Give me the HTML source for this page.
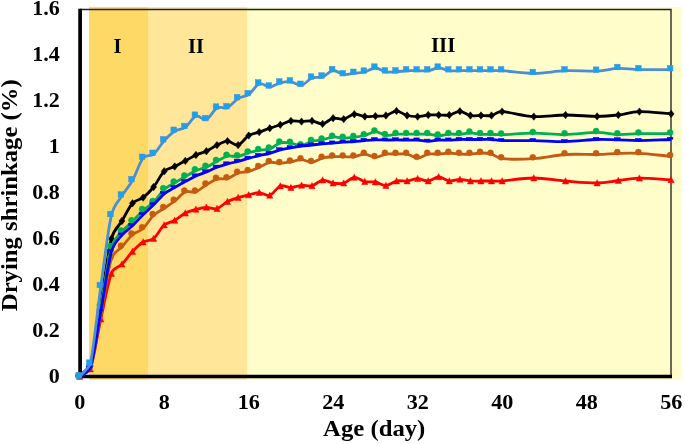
<!DOCTYPE html>
<html><head><meta charset="utf-8"><title>Drying shrinkage</title>
<style>
html,body{margin:0;padding:0;background:#fff;}
body{width:685px;height:444px;overflow:hidden;}
svg{display:block;will-change:transform;filter:blur(0.45px);}
text{font-family:"Liberation Serif",serif;font-weight:bold;fill:#000;}
</style></head><body>
<svg width="685" height="444" viewBox="0 0 685 444">
<rect x="0" y="0" width="685" height="444" fill="#ffffff"/>
<rect x="89" y="7" width="59" height="372.8" fill="#ffd966"/>
<rect x="148" y="7" width="99.5" height="372.8" fill="#ffe699"/>
<rect x="247.5" y="7" width="434" height="372.8" fill="#fffdc9"/>
<!-- thin top/right border -->
<path d="M80 9.5H671V376" fill="none" stroke="#222" stroke-width="1.35"/>
<!-- thick axes -->
<path d="M80.1 8.8V376.5H672" fill="none" stroke="#000" stroke-width="3.7" stroke-linejoin="miter"/>
<g font-size="21">
<text x="117.5" y="53.1" text-anchor="middle" font-size="20.5">I</text>
<text x="195.9" y="53.1" text-anchor="middle" font-size="20.5">II</text>
<text x="443.2" y="51.8" text-anchor="middle">III</text>
</g>
<path d="M79.70 375.40 C83.22 372.27 89.57 368.38 90.26 366.00 C93.78 353.93 97.30 324.20 100.82 303.00 C104.34 281.80 107.86 252.47 111.38 238.80 C113.96 228.78 118.42 226.92 121.94 221.00 C125.46 215.08 128.98 207.20 132.50 203.30 C136.02 199.40 139.54 200.32 143.06 197.60 C146.58 194.88 150.10 191.38 153.62 187.00 C157.14 182.62 160.66 174.72 164.18 171.30 C167.70 167.88 171.22 168.23 174.74 166.50 C178.26 164.77 181.78 162.82 185.30 160.90 C188.82 158.98 192.34 156.62 195.86 155.00 C199.38 153.38 202.90 152.85 206.42 151.20 C209.94 149.55 213.46 146.78 216.98 145.10 C220.50 143.42 224.02 141.10 227.54 141.10 C231.06 141.10 234.58 146.03 238.10 145.10 C241.62 144.17 245.14 137.67 248.66 135.50 C252.18 133.33 255.70 133.32 259.22 132.10 C262.74 130.88 266.26 129.42 269.78 128.20 C273.30 126.98 276.82 126.02 280.34 124.80 C283.86 123.58 287.38 121.43 290.90 120.90 C294.42 120.37 297.94 121.60 301.46 121.60 C304.98 121.60 308.50 120.52 312.02 120.90 C315.54 121.28 319.06 124.35 322.58 123.90 C326.10 123.45 329.62 119.00 333.14 118.20 C336.66 117.40 340.18 119.77 343.70 119.10 C347.22 118.43 350.74 114.63 354.26 114.20 C357.78 113.77 361.30 116.18 364.82 116.50 C368.34 116.82 371.86 116.27 375.38 116.10 C378.90 115.93 382.42 116.35 385.94 115.50 C389.46 114.65 392.98 111.00 396.50 111.00 C400.02 111.00 403.54 114.57 407.06 115.50 C410.58 116.43 414.10 116.68 417.62 116.60 C421.14 116.52 424.66 115.27 428.18 115.00 C431.70 114.73 435.22 115.00 438.74 115.00 C442.26 115.00 445.78 115.62 449.30 115.00 C452.82 114.38 456.34 111.22 459.86 111.30 C463.38 111.38 466.90 114.80 470.42 115.50 C473.94 116.20 477.46 115.50 480.98 115.50 C484.50 115.50 488.02 116.15 491.54 115.50 C495.06 114.85 496.47 111.45 502.10 111.60 C509.14 111.78 523.22 116.03 533.78 116.60 C544.34 117.17 554.90 115.03 565.46 115.00 C576.02 114.97 588.34 116.40 597.14 116.40 C605.94 116.40 611.22 115.80 618.26 115.00 C625.30 114.20 630.58 111.78 639.38 111.60 C648.18 111.42 660.50 113.13 671.06 113.90" fill="none" stroke="#000000" stroke-width="2.8" stroke-linejoin="round" stroke-linecap="butt"/>
<g fill="#000000" stroke="#000000" stroke-width="0.5" stroke-linejoin="miter"><path d="M79.7 371.7l3 3.7l-3 3.7l-3 -3.7z"/><path d="M90.3 362.3l3 3.7l-3 3.7l-3 -3.7z"/><path d="M100.8 299.3l3 3.7l-3 3.7l-3 -3.7z"/><path d="M111.4 235.1l3 3.7l-3 3.7l-3 -3.7z"/><path d="M121.9 217.3l3 3.7l-3 3.7l-3 -3.7z"/><path d="M132.5 199.6l3 3.7l-3 3.7l-3 -3.7z"/><path d="M143.1 193.9l3 3.7l-3 3.7l-3 -3.7z"/><path d="M153.6 183.3l3 3.7l-3 3.7l-3 -3.7z"/><path d="M164.2 167.6l3 3.7l-3 3.7l-3 -3.7z"/><path d="M174.7 162.8l3 3.7l-3 3.7l-3 -3.7z"/><path d="M185.3 157.2l3 3.7l-3 3.7l-3 -3.7z"/><path d="M195.9 151.3l3 3.7l-3 3.7l-3 -3.7z"/><path d="M206.4 147.5l3 3.7l-3 3.7l-3 -3.7z"/><path d="M217.0 141.4l3 3.7l-3 3.7l-3 -3.7z"/><path d="M227.5 137.4l3 3.7l-3 3.7l-3 -3.7z"/><path d="M238.1 141.4l3 3.7l-3 3.7l-3 -3.7z"/><path d="M248.7 131.8l3 3.7l-3 3.7l-3 -3.7z"/><path d="M259.2 128.4l3 3.7l-3 3.7l-3 -3.7z"/><path d="M269.8 124.5l3 3.7l-3 3.7l-3 -3.7z"/><path d="M280.3 121.1l3 3.7l-3 3.7l-3 -3.7z"/><path d="M290.9 117.2l3 3.7l-3 3.7l-3 -3.7z"/><path d="M301.5 117.9l3 3.7l-3 3.7l-3 -3.7z"/><path d="M312.0 117.2l3 3.7l-3 3.7l-3 -3.7z"/><path d="M322.6 120.2l3 3.7l-3 3.7l-3 -3.7z"/><path d="M333.1 114.5l3 3.7l-3 3.7l-3 -3.7z"/><path d="M343.7 115.4l3 3.7l-3 3.7l-3 -3.7z"/><path d="M354.3 110.5l3 3.7l-3 3.7l-3 -3.7z"/><path d="M364.8 112.8l3 3.7l-3 3.7l-3 -3.7z"/><path d="M375.4 112.4l3 3.7l-3 3.7l-3 -3.7z"/><path d="M385.9 111.8l3 3.7l-3 3.7l-3 -3.7z"/><path d="M396.5 107.3l3 3.7l-3 3.7l-3 -3.7z"/><path d="M407.1 111.8l3 3.7l-3 3.7l-3 -3.7z"/><path d="M417.6 112.9l3 3.7l-3 3.7l-3 -3.7z"/><path d="M428.2 111.3l3 3.7l-3 3.7l-3 -3.7z"/><path d="M438.7 111.3l3 3.7l-3 3.7l-3 -3.7z"/><path d="M449.3 111.3l3 3.7l-3 3.7l-3 -3.7z"/><path d="M459.9 107.6l3 3.7l-3 3.7l-3 -3.7z"/><path d="M470.4 111.8l3 3.7l-3 3.7l-3 -3.7z"/><path d="M481.0 111.8l3 3.7l-3 3.7l-3 -3.7z"/><path d="M491.5 111.8l3 3.7l-3 3.7l-3 -3.7z"/><path d="M502.1 107.9l3 3.7l-3 3.7l-3 -3.7z"/><path d="M533.8 112.9l3 3.7l-3 3.7l-3 -3.7z"/><path d="M565.5 111.3l3 3.7l-3 3.7l-3 -3.7z"/><path d="M597.1 112.7l3 3.7l-3 3.7l-3 -3.7z"/><path d="M618.3 111.3l3 3.7l-3 3.7l-3 -3.7z"/><path d="M639.4 107.9l3 3.7l-3 3.7l-3 -3.7z"/><path d="M671.1 110.2l3 3.7l-3 3.7l-3 -3.7z"/></g>
<path d="M79.70 376.50 C83.22 374.00 89.48 371.13 90.26 369.00 C93.78 359.42 97.30 334.92 100.82 319.00 C104.34 303.08 107.86 282.63 111.38 273.50 C113.91 266.94 118.42 267.87 121.94 264.20 C125.46 260.53 128.98 255.20 132.50 251.50 C136.02 247.80 139.54 244.17 143.06 242.00 C146.58 239.83 150.10 241.33 153.62 238.50 C157.14 235.67 160.66 228.02 164.18 225.00 C167.70 221.98 171.22 222.38 174.74 220.40 C178.26 218.42 181.78 214.93 185.30 213.10 C188.82 211.27 192.34 210.37 195.86 209.40 C199.38 208.43 202.90 207.43 206.42 207.30 C209.94 207.17 213.46 209.55 216.98 208.60 C220.50 207.65 224.02 203.43 227.54 201.60 C231.06 199.77 234.58 198.72 238.10 197.60 C241.62 196.48 245.14 195.73 248.66 194.90 C252.18 194.07 255.70 192.52 259.22 192.60 C262.74 192.68 266.26 196.50 269.78 195.40 C273.30 194.30 276.82 187.30 280.34 186.00 C283.86 184.70 287.38 187.72 290.90 187.60 C294.42 187.48 297.94 185.60 301.46 185.30 C304.98 185.00 308.50 186.67 312.02 185.80 C315.54 184.93 319.06 180.55 322.58 180.10 C326.10 179.65 329.62 182.60 333.14 183.10 C336.66 183.60 340.18 184.05 343.70 183.10 C347.22 182.15 350.74 177.65 354.26 177.40 C357.78 177.15 361.30 180.83 364.82 181.60 C368.34 182.37 371.86 181.35 375.38 182.00 C378.90 182.65 382.42 185.67 385.94 185.50 C389.46 185.33 392.98 181.75 396.50 181.00 C400.02 180.25 403.54 181.38 407.06 181.00 C410.58 180.62 414.10 178.70 417.62 178.70 C421.14 178.70 424.66 181.30 428.18 181.00 C431.70 180.70 435.22 176.90 438.74 176.90 C442.26 176.90 445.78 180.58 449.30 181.00 C452.82 181.42 456.34 179.40 459.86 179.40 C463.38 179.40 466.90 180.73 470.42 181.00 C473.94 181.27 477.46 181.00 480.98 181.00 C484.50 181.00 488.02 181.00 491.54 181.00 C495.06 181.00 496.83 181.37 502.10 181.00 C509.14 180.50 523.22 178.00 533.78 178.00 C544.34 178.00 554.90 180.17 565.46 181.00 C576.02 181.83 588.34 183.08 597.14 183.00 C605.94 182.92 611.22 181.30 618.26 180.50 C625.30 179.70 630.58 178.32 639.38 178.20 C648.18 178.08 660.50 179.27 671.06 179.80" fill="none" stroke="#ff0000" stroke-width="2.8" stroke-linejoin="round" stroke-linecap="butt"/>
<g fill="#ff0000" stroke="#ff0000" stroke-width="0.5" stroke-linejoin="miter"><path d="M79.7 373.2l3.1 6.2h-6.2z"/><path d="M90.3 365.7l3.1 6.2h-6.2z"/><path d="M100.8 315.7l3.1 6.2h-6.2z"/><path d="M111.4 270.2l3.1 6.2h-6.2z"/><path d="M121.9 260.9l3.1 6.2h-6.2z"/><path d="M132.5 248.2l3.1 6.2h-6.2z"/><path d="M143.1 238.7l3.1 6.2h-6.2z"/><path d="M153.6 235.2l3.1 6.2h-6.2z"/><path d="M164.2 221.7l3.1 6.2h-6.2z"/><path d="M174.7 217.1l3.1 6.2h-6.2z"/><path d="M185.3 209.8l3.1 6.2h-6.2z"/><path d="M195.9 206.1l3.1 6.2h-6.2z"/><path d="M206.4 204.0l3.1 6.2h-6.2z"/><path d="M217.0 205.3l3.1 6.2h-6.2z"/><path d="M227.5 198.3l3.1 6.2h-6.2z"/><path d="M238.1 194.3l3.1 6.2h-6.2z"/><path d="M248.7 191.6l3.1 6.2h-6.2z"/><path d="M259.2 189.3l3.1 6.2h-6.2z"/><path d="M269.8 192.1l3.1 6.2h-6.2z"/><path d="M280.3 182.7l3.1 6.2h-6.2z"/><path d="M290.9 184.3l3.1 6.2h-6.2z"/><path d="M301.5 182.0l3.1 6.2h-6.2z"/><path d="M312.0 182.5l3.1 6.2h-6.2z"/><path d="M322.6 176.8l3.1 6.2h-6.2z"/><path d="M333.1 179.8l3.1 6.2h-6.2z"/><path d="M343.7 179.8l3.1 6.2h-6.2z"/><path d="M354.3 174.1l3.1 6.2h-6.2z"/><path d="M364.8 178.3l3.1 6.2h-6.2z"/><path d="M375.4 178.7l3.1 6.2h-6.2z"/><path d="M385.9 182.2l3.1 6.2h-6.2z"/><path d="M396.5 177.7l3.1 6.2h-6.2z"/><path d="M407.1 177.7l3.1 6.2h-6.2z"/><path d="M417.6 175.4l3.1 6.2h-6.2z"/><path d="M428.2 177.7l3.1 6.2h-6.2z"/><path d="M438.7 173.6l3.1 6.2h-6.2z"/><path d="M449.3 177.7l3.1 6.2h-6.2z"/><path d="M459.9 176.1l3.1 6.2h-6.2z"/><path d="M470.4 177.7l3.1 6.2h-6.2z"/><path d="M481.0 177.7l3.1 6.2h-6.2z"/><path d="M491.5 177.7l3.1 6.2h-6.2z"/><path d="M502.1 177.7l3.1 6.2h-6.2z"/><path d="M533.8 174.7l3.1 6.2h-6.2z"/><path d="M565.5 177.7l3.1 6.2h-6.2z"/><path d="M597.1 179.7l3.1 6.2h-6.2z"/><path d="M618.3 177.2l3.1 6.2h-6.2z"/><path d="M639.4 174.9l3.1 6.2h-6.2z"/><path d="M671.1 176.5l3.1 6.2h-6.2z"/></g>
<path d="M79.70 376.70 C83.22 374.07 89.52 370.99 90.26 368.80 C93.78 358.40 97.30 332.63 100.82 314.30 C104.34 295.97 107.86 270.02 111.38 258.80 C113.75 251.25 118.42 251.00 121.94 247.00 C125.46 243.00 128.98 237.88 132.50 234.80 C136.02 231.72 139.54 231.75 143.06 228.50 C146.58 225.25 150.10 218.67 153.62 215.30 C157.14 211.93 160.66 210.68 164.18 208.30 C167.70 205.92 171.22 203.73 174.74 201.00 C178.26 198.27 181.78 193.42 185.30 191.90 C188.82 190.38 192.34 193.10 195.86 191.90 C199.38 190.70 202.90 186.83 206.42 184.70 C209.94 182.57 213.46 180.12 216.98 179.10 C220.50 178.08 224.02 179.62 227.54 178.60 C231.06 177.58 234.58 174.20 238.10 173.00 C241.62 171.80 245.14 172.35 248.66 171.40 C252.18 170.45 255.70 168.80 259.22 167.30 C262.74 165.80 266.26 163.07 269.78 162.40 C273.30 161.73 276.82 163.40 280.34 163.30 C283.86 163.20 287.38 162.42 290.90 161.80 C294.42 161.18 297.94 159.52 301.46 159.60 C304.98 159.68 308.50 162.57 312.02 162.30 C315.54 162.03 319.06 158.93 322.58 158.00 C326.10 157.07 329.62 156.92 333.14 156.70 C336.66 156.48 340.18 156.70 343.70 156.70 C347.22 156.70 350.74 157.13 354.26 156.70 C357.78 156.27 361.30 153.98 364.82 154.10 C368.34 154.22 371.86 157.40 375.38 157.40 C378.90 157.40 382.42 154.65 385.94 154.10 C389.46 153.55 392.98 154.10 396.50 154.10 C400.02 154.10 403.54 153.43 407.06 154.10 C410.58 154.77 414.10 158.10 417.62 158.10 C421.14 158.10 424.66 154.77 428.18 154.10 C431.70 153.43 435.22 154.28 438.74 154.10 C442.26 153.92 445.78 153.00 449.30 153.00 C452.82 153.00 456.34 153.92 459.86 154.10 C463.38 154.28 466.90 154.28 470.42 154.10 C473.94 153.92 477.46 153.00 480.98 153.00 C484.50 153.00 488.02 153.17 491.54 154.10 C495.06 155.03 496.39 157.99 502.10 158.60 C509.14 159.35 523.22 159.28 533.78 158.60 C544.34 157.92 554.90 155.18 565.46 154.50 C576.02 153.82 588.34 154.68 597.14 154.50 C605.94 154.32 611.22 153.58 618.26 153.40 C625.30 153.22 630.58 152.92 639.38 153.40 C648.18 153.88 660.50 155.33 671.06 156.30" fill="none" stroke="#c55a11" stroke-width="2.8" stroke-linejoin="round" stroke-linecap="butt"/>
<g fill="#c55a11" stroke="#c55a11" stroke-width="0.5" stroke-linejoin="miter"><circle cx="78.7" cy="375.4" r="3"/><circle cx="89.3" cy="367.5" r="3"/><circle cx="99.8" cy="313.0" r="3"/><circle cx="110.4" cy="257.5" r="3"/><circle cx="120.9" cy="245.7" r="3"/><circle cx="131.5" cy="233.5" r="3"/><circle cx="142.1" cy="227.2" r="3"/><circle cx="152.6" cy="214.0" r="3"/><circle cx="163.2" cy="207.0" r="3"/><circle cx="173.7" cy="199.7" r="3"/><circle cx="184.3" cy="190.6" r="3"/><circle cx="194.9" cy="190.6" r="3"/><circle cx="205.4" cy="183.4" r="3"/><circle cx="216.0" cy="177.8" r="3"/><circle cx="226.5" cy="177.3" r="3"/><circle cx="237.1" cy="171.7" r="3"/><circle cx="247.7" cy="170.1" r="3"/><circle cx="258.2" cy="166.0" r="3"/><circle cx="268.8" cy="161.1" r="3"/><circle cx="279.3" cy="162.0" r="3"/><circle cx="289.9" cy="160.5" r="3"/><circle cx="300.5" cy="158.3" r="3"/><circle cx="311.0" cy="161.0" r="3"/><circle cx="321.6" cy="156.7" r="3"/><circle cx="332.1" cy="155.4" r="3"/><circle cx="342.7" cy="155.4" r="3"/><circle cx="353.3" cy="155.4" r="3"/><circle cx="363.8" cy="152.8" r="3"/><circle cx="374.4" cy="156.1" r="3"/><circle cx="384.9" cy="152.8" r="3"/><circle cx="395.5" cy="152.8" r="3"/><circle cx="406.1" cy="152.8" r="3"/><circle cx="416.6" cy="156.8" r="3"/><circle cx="427.2" cy="152.8" r="3"/><circle cx="437.7" cy="152.8" r="3"/><circle cx="448.3" cy="151.7" r="3"/><circle cx="458.9" cy="152.8" r="3"/><circle cx="469.4" cy="152.8" r="3"/><circle cx="480.0" cy="151.7" r="3"/><circle cx="490.5" cy="152.8" r="3"/><circle cx="501.1" cy="157.3" r="3"/><circle cx="532.8" cy="157.3" r="3"/><circle cx="564.5" cy="153.2" r="3"/><circle cx="596.1" cy="153.2" r="3"/><circle cx="617.3" cy="152.1" r="3"/><circle cx="638.4" cy="152.1" r="3"/><circle cx="670.1" cy="155.0" r="3"/></g>
<path d="M79.70 376.70 C83.22 373.57 89.55 369.67 90.26 367.30 C93.78 355.57 97.30 326.28 100.82 306.30 C104.34 286.32 107.86 259.83 111.38 247.40 C113.96 238.30 118.42 236.00 121.94 231.70 C125.46 227.40 128.98 225.17 132.50 221.60 C136.02 218.03 139.54 213.52 143.06 210.30 C146.58 207.08 150.10 205.77 153.62 202.30 C157.14 198.83 160.66 192.75 164.18 189.50 C167.70 186.25 171.22 184.93 174.74 182.80 C178.26 180.67 181.78 178.75 185.30 176.70 C188.82 174.65 192.34 172.10 195.86 170.50 C199.38 168.90 202.90 168.63 206.42 167.10 C209.94 165.57 213.46 163.13 216.98 161.30 C220.50 159.47 224.02 156.90 227.54 156.10 C231.06 155.30 234.58 157.07 238.10 156.50 C241.62 155.93 245.14 153.72 248.66 152.70 C252.18 151.68 255.70 151.03 259.22 150.40 C262.74 149.77 266.26 150.15 269.78 148.90 C273.30 147.65 276.82 143.87 280.34 142.90 C283.86 141.93 287.38 142.65 290.90 143.10 C294.42 143.55 297.94 145.92 301.46 145.60 C304.98 145.28 308.50 142.17 312.02 141.20 C315.54 140.23 319.06 140.50 322.58 139.80 C326.10 139.10 329.62 137.28 333.14 137.00 C336.66 136.72 340.18 138.07 343.70 138.10 C347.22 138.13 350.74 137.63 354.26 137.20 C357.78 136.77 361.30 136.42 364.82 135.50 C368.34 134.58 371.86 131.72 375.38 131.70 C378.90 131.68 382.42 134.98 385.94 135.40 C389.46 135.82 392.98 134.40 396.50 134.20 C400.02 134.00 403.54 134.20 407.06 134.20 C410.58 134.20 414.10 134.20 417.62 134.20 C421.14 134.20 424.66 133.93 428.18 134.20 C431.70 134.47 435.22 135.80 438.74 135.80 C442.26 135.80 445.78 134.45 449.30 134.20 C452.82 133.95 456.34 134.53 459.86 134.30 C463.38 134.07 466.90 132.80 470.42 132.80 C473.94 132.80 477.46 134.05 480.98 134.30 C484.50 134.55 488.02 134.23 491.54 134.30 C495.06 134.37 496.82 134.84 502.10 134.70 C509.14 134.52 523.22 133.22 533.78 133.20 C544.34 133.18 554.90 134.73 565.46 134.60 C576.02 134.47 588.34 132.40 597.14 132.40 C605.94 132.40 611.22 134.38 618.26 134.60 C625.30 134.82 630.58 133.85 639.38 133.70 C648.18 133.55 660.50 133.70 671.06 133.70" fill="none" stroke="#00b050" stroke-width="2.8" stroke-linejoin="round" stroke-linecap="butt"/>
<g fill="#00b050" stroke="#00b050" stroke-width="0.5" stroke-linejoin="miter"><circle cx="78.7" cy="375.4" r="3"/><circle cx="89.3" cy="366.0" r="3"/><circle cx="99.8" cy="305.0" r="3"/><circle cx="110.4" cy="246.1" r="3"/><circle cx="120.9" cy="230.4" r="3"/><circle cx="131.5" cy="220.3" r="3"/><circle cx="142.1" cy="209.0" r="3"/><circle cx="152.6" cy="201.0" r="3"/><circle cx="163.2" cy="188.2" r="3"/><circle cx="173.7" cy="181.5" r="3"/><circle cx="184.3" cy="175.4" r="3"/><circle cx="194.9" cy="169.2" r="3"/><circle cx="205.4" cy="165.8" r="3"/><circle cx="216.0" cy="160.0" r="3"/><circle cx="226.5" cy="154.8" r="3"/><circle cx="237.1" cy="155.2" r="3"/><circle cx="247.7" cy="151.4" r="3"/><circle cx="258.2" cy="149.1" r="3"/><circle cx="268.8" cy="147.6" r="3"/><circle cx="279.3" cy="141.6" r="3"/><circle cx="289.9" cy="141.8" r="3"/><circle cx="300.5" cy="144.3" r="3"/><circle cx="311.0" cy="139.9" r="3"/><circle cx="321.6" cy="138.5" r="3"/><circle cx="332.1" cy="135.7" r="3"/><circle cx="342.7" cy="136.8" r="3"/><circle cx="353.3" cy="135.9" r="3"/><circle cx="363.8" cy="134.2" r="3"/><circle cx="374.4" cy="130.4" r="3"/><circle cx="384.9" cy="134.1" r="3"/><circle cx="395.5" cy="132.9" r="3"/><circle cx="406.1" cy="132.9" r="3"/><circle cx="416.6" cy="132.9" r="3"/><circle cx="427.2" cy="132.9" r="3"/><circle cx="437.7" cy="134.5" r="3"/><circle cx="448.3" cy="132.9" r="3"/><circle cx="458.9" cy="133.0" r="3"/><circle cx="469.4" cy="131.5" r="3"/><circle cx="480.0" cy="133.0" r="3"/><circle cx="490.5" cy="133.0" r="3"/><circle cx="501.1" cy="133.4" r="3"/><circle cx="532.8" cy="131.9" r="3"/><circle cx="564.5" cy="133.3" r="3"/><circle cx="596.1" cy="131.1" r="3"/><circle cx="617.3" cy="133.3" r="3"/><circle cx="638.4" cy="132.4" r="3"/><circle cx="670.1" cy="132.4" r="3"/></g>
<path d="M79.70 377.30 C83.22 374.30 89.52 370.61 90.26 368.30 C93.78 357.30 97.30 330.72 100.82 311.30 C104.34 291.88 107.86 264.50 111.38 251.80 C114.02 242.28 118.42 239.43 121.94 235.10 C125.46 230.77 128.98 229.20 132.50 225.80 C136.02 222.40 139.54 218.20 143.06 214.70 C146.58 211.20 150.10 208.28 153.62 204.80 C157.14 201.32 160.66 196.68 164.18 193.80 C167.70 190.92 171.22 189.53 174.74 187.50 C178.26 185.47 181.78 183.52 185.30 181.60 C188.82 179.68 192.34 177.62 195.86 176.00 C199.38 174.38 202.90 173.35 206.42 171.90 C209.94 170.45 213.46 168.62 216.98 167.30 C220.50 165.98 224.02 165.00 227.54 164.00 C231.06 163.00 234.58 162.25 238.10 161.30 C241.62 160.35 245.14 159.25 248.66 158.30 C252.18 157.35 255.70 156.43 259.22 155.60 C262.74 154.77 266.26 154.25 269.78 153.30 C273.30 152.35 276.82 150.80 280.34 149.90 C283.86 149.00 287.38 148.53 290.90 147.90 C294.42 147.27 297.94 146.57 301.46 146.10 C304.98 145.63 308.50 145.48 312.02 145.10 C315.54 144.72 319.06 144.13 322.58 143.80 C326.10 143.47 329.62 143.37 333.14 143.10 C336.66 142.83 340.18 142.45 343.70 142.20 C347.22 141.95 350.74 141.88 354.26 141.60 C357.78 141.32 361.30 140.80 364.82 140.50 C368.34 140.20 371.86 139.87 375.38 139.80 C378.90 139.73 382.42 140.08 385.94 140.10 C389.46 140.12 392.98 139.90 396.50 139.90 C400.02 139.90 403.54 140.07 407.06 140.10 C410.58 140.13 414.10 139.90 417.62 140.10 C421.14 140.30 424.66 141.30 428.18 141.30 C431.70 141.30 435.22 140.30 438.74 140.10 C442.26 139.90 445.78 140.20 449.30 140.10 C452.82 140.00 456.34 139.60 459.86 139.50 C463.38 139.40 466.90 139.50 470.42 139.50 C473.94 139.50 477.46 139.50 480.98 139.50 C484.50 139.50 488.02 139.32 491.54 139.50 C495.06 139.68 496.79 140.46 502.10 140.60 C509.14 140.78 523.22 140.42 533.78 140.60 C544.34 140.78 554.90 141.88 565.46 141.70 C576.02 141.52 588.34 139.80 597.14 139.50 C605.94 139.20 611.22 139.72 618.26 139.90 C625.30 140.08 630.58 140.67 639.38 140.60 C648.18 140.53 660.50 139.87 671.06 139.50" fill="none" stroke="#0000ff" stroke-width="2.8" stroke-linejoin="round" stroke-linecap="butt"/>
<g fill="#0000ff" stroke="#0000ff" stroke-width="0.5" stroke-linejoin="miter"><rect x="75.9" y="375.1" width="5.6" height="2"/><rect x="86.5" y="366.1" width="5.6" height="2"/><rect x="97.0" y="309.1" width="5.6" height="2"/><rect x="107.6" y="249.6" width="5.6" height="2"/><rect x="118.1" y="232.9" width="5.6" height="2"/><rect x="128.7" y="223.6" width="5.6" height="2"/><rect x="139.3" y="212.5" width="5.6" height="2"/><rect x="149.8" y="202.6" width="5.6" height="2"/><rect x="160.4" y="191.6" width="5.6" height="2"/><rect x="170.9" y="185.3" width="5.6" height="2"/><rect x="181.5" y="179.4" width="5.6" height="2"/><rect x="192.1" y="173.8" width="5.6" height="2"/><rect x="202.6" y="169.7" width="5.6" height="2"/><rect x="213.2" y="165.1" width="5.6" height="2"/><rect x="223.7" y="161.8" width="5.6" height="2"/><rect x="234.3" y="159.1" width="5.6" height="2"/><rect x="244.9" y="156.1" width="5.6" height="2"/><rect x="255.4" y="153.4" width="5.6" height="2"/><rect x="266.0" y="151.1" width="5.6" height="2"/><rect x="276.5" y="147.7" width="5.6" height="2"/><rect x="287.1" y="145.7" width="5.6" height="2"/><rect x="297.7" y="143.9" width="5.6" height="2"/><rect x="308.2" y="142.9" width="5.6" height="2"/><rect x="318.8" y="141.6" width="5.6" height="2"/><rect x="329.3" y="140.9" width="5.6" height="2"/><rect x="339.9" y="140.0" width="5.6" height="2"/><rect x="350.5" y="139.4" width="5.6" height="2"/><rect x="361.0" y="138.3" width="5.6" height="2"/><rect x="371.6" y="137.6" width="5.6" height="2"/><rect x="382.1" y="137.9" width="5.6" height="2"/><rect x="392.7" y="137.7" width="5.6" height="2"/><rect x="403.3" y="137.9" width="5.6" height="2"/><rect x="413.8" y="137.9" width="5.6" height="2"/><rect x="424.4" y="139.1" width="5.6" height="2"/><rect x="434.9" y="137.9" width="5.6" height="2"/><rect x="445.5" y="137.9" width="5.6" height="2"/><rect x="456.1" y="137.3" width="5.6" height="2"/><rect x="466.6" y="137.3" width="5.6" height="2"/><rect x="477.2" y="137.3" width="5.6" height="2"/><rect x="487.7" y="137.3" width="5.6" height="2"/><rect x="498.3" y="138.4" width="5.6" height="2"/><rect x="530.0" y="138.4" width="5.6" height="2"/><rect x="561.7" y="139.5" width="5.6" height="2"/><rect x="593.3" y="137.3" width="5.6" height="2"/><rect x="614.5" y="137.7" width="5.6" height="2"/><rect x="635.6" y="138.4" width="5.6" height="2"/><rect x="667.3" y="137.3" width="5.6" height="2"/></g>
<path d="M79.70 376.80 C83.22 372.53 89.60 366.83 90.26 364.00 C93.78 348.93 97.30 311.17 100.82 286.40 C104.34 261.63 107.86 230.48 111.38 215.40 C113.90 204.60 118.42 201.72 121.94 195.90 C125.46 190.08 128.98 186.78 132.50 180.50 C136.02 174.22 139.54 162.58 143.06 158.20 C146.58 153.82 150.10 157.12 153.62 154.20 C157.14 151.28 160.66 144.53 164.18 140.70 C167.70 136.87 171.22 133.42 174.74 131.20 C178.26 128.98 181.78 129.92 185.30 127.40 C188.82 124.88 192.34 117.42 195.86 116.10 C199.38 114.78 202.90 120.85 206.42 119.50 C209.94 118.15 213.46 109.98 216.98 108.00 C220.50 106.02 224.02 109.17 227.54 107.60 C231.06 106.03 234.58 100.78 238.10 98.60 C241.62 96.42 245.14 96.95 248.66 94.50 C252.18 92.05 255.70 85.17 259.22 83.90 C262.74 82.63 266.26 87.07 269.78 86.90 C273.30 86.73 276.82 83.75 280.34 82.90 C283.86 82.05 287.38 81.42 290.90 81.80 C294.42 82.18 297.94 85.83 301.46 85.20 C304.98 84.57 308.50 79.38 312.02 78.00 C315.54 76.62 319.06 78.15 322.58 76.90 C326.10 75.65 329.62 70.88 333.14 70.50 C336.66 70.12 340.18 74.15 343.70 74.60 C347.22 75.05 350.74 73.63 354.26 73.20 C357.78 72.77 361.30 72.87 364.82 72.00 C368.34 71.13 371.86 68.03 375.38 68.00 C378.90 67.97 382.42 71.17 385.94 71.80 C389.46 72.43 392.98 71.98 396.50 71.80 C400.02 71.62 403.54 70.88 407.06 70.70 C410.58 70.52 414.10 70.70 417.62 70.70 C421.14 70.70 424.66 71.15 428.18 70.70 C431.70 70.25 435.22 68.00 438.74 68.00 C442.26 68.00 445.78 70.25 449.30 70.70 C452.82 71.15 456.34 70.70 459.86 70.70 C463.38 70.70 466.90 70.70 470.42 70.70 C473.94 70.70 477.46 70.70 480.98 70.70 C484.50 70.70 488.02 70.70 491.54 70.70 C495.06 70.70 496.83 70.36 502.10 70.70 C509.14 71.15 523.22 73.40 533.78 73.40 C544.34 73.40 554.90 71.08 565.46 70.70 C576.02 70.32 588.34 71.48 597.14 71.10 C605.94 70.72 611.22 68.65 618.26 68.40 C625.30 68.15 630.58 69.40 639.38 69.60 C648.18 69.80 660.50 69.60 671.06 69.60" fill="none" stroke="#4a8fd6" stroke-width="2.8" stroke-linejoin="round" stroke-linecap="butt"/>
<g fill="#1aa3ea" stroke="#4a8fd6" stroke-width="0.5" stroke-linejoin="miter"><rect x="75.9" y="372.6" width="5.6" height="5.6"/><rect x="86.5" y="359.8" width="5.6" height="5.6"/><rect x="97.0" y="282.2" width="5.6" height="5.6"/><rect x="107.6" y="211.2" width="5.6" height="5.6"/><rect x="118.1" y="191.7" width="5.6" height="5.6"/><rect x="128.7" y="176.3" width="5.6" height="5.6"/><rect x="139.3" y="154.0" width="5.6" height="5.6"/><rect x="149.8" y="150.0" width="5.6" height="5.6"/><rect x="160.4" y="136.5" width="5.6" height="5.6"/><rect x="170.9" y="127.0" width="5.6" height="5.6"/><rect x="181.5" y="123.2" width="5.6" height="5.6"/><rect x="192.1" y="111.9" width="5.6" height="5.6"/><rect x="202.6" y="115.3" width="5.6" height="5.6"/><rect x="213.2" y="103.8" width="5.6" height="5.6"/><rect x="223.7" y="103.4" width="5.6" height="5.6"/><rect x="234.3" y="94.4" width="5.6" height="5.6"/><rect x="244.9" y="90.3" width="5.6" height="5.6"/><rect x="255.4" y="79.7" width="5.6" height="5.6"/><rect x="266.0" y="82.7" width="5.6" height="5.6"/><rect x="276.5" y="78.7" width="5.6" height="5.6"/><rect x="287.1" y="77.6" width="5.6" height="5.6"/><rect x="297.7" y="81.0" width="5.6" height="5.6"/><rect x="308.2" y="73.8" width="5.6" height="5.6"/><rect x="318.8" y="72.7" width="5.6" height="5.6"/><rect x="329.3" y="66.3" width="5.6" height="5.6"/><rect x="339.9" y="70.4" width="5.6" height="5.6"/><rect x="350.5" y="69.0" width="5.6" height="5.6"/><rect x="361.0" y="67.8" width="5.6" height="5.6"/><rect x="371.6" y="63.8" width="5.6" height="5.6"/><rect x="382.1" y="67.6" width="5.6" height="5.6"/><rect x="392.7" y="67.6" width="5.6" height="5.6"/><rect x="403.3" y="66.5" width="5.6" height="5.6"/><rect x="413.8" y="66.5" width="5.6" height="5.6"/><rect x="424.4" y="66.5" width="5.6" height="5.6"/><rect x="434.9" y="63.8" width="5.6" height="5.6"/><rect x="445.5" y="66.5" width="5.6" height="5.6"/><rect x="456.1" y="66.5" width="5.6" height="5.6"/><rect x="466.6" y="66.5" width="5.6" height="5.6"/><rect x="477.2" y="66.5" width="5.6" height="5.6"/><rect x="487.7" y="66.5" width="5.6" height="5.6"/><rect x="498.3" y="66.5" width="5.6" height="5.6"/><rect x="530.0" y="69.2" width="5.6" height="5.6"/><rect x="561.7" y="66.5" width="5.6" height="5.6"/><rect x="593.3" y="66.9" width="5.6" height="5.6"/><rect x="614.5" y="64.2" width="5.6" height="5.6"/><rect x="635.6" y="65.4" width="5.6" height="5.6"/><rect x="667.3" y="65.4" width="5.6" height="5.6"/></g>
<g font-size="21">
<text x="59.8" y="383.0" text-anchor="end" font-size="22">0</text>
<text x="59.8" y="337.0" text-anchor="end" font-size="22">0.2</text>
<text x="59.8" y="290.9" text-anchor="end" font-size="22">0.4</text>
<text x="59.8" y="244.9" text-anchor="end" font-size="22">0.6</text>
<text x="59.8" y="198.8" text-anchor="end" font-size="22">0.8</text>
<text x="59.8" y="152.8" text-anchor="end" font-size="22">1</text>
<text x="59.8" y="106.8" text-anchor="end" font-size="22">1.2</text>
<text x="59.8" y="60.7" text-anchor="end" font-size="22">1.4</text>
<text x="59.8" y="14.7" text-anchor="end" font-size="22">1.6</text>
<text transform="translate(79.8,409.1) scale(1.03,1)" text-anchor="middle" font-size="21.5">0</text>
<text transform="translate(164.3,409.1) scale(1.03,1)" text-anchor="middle" font-size="21.5">8</text>
<text transform="translate(248.8,409.1) scale(1.03,1)" text-anchor="middle" font-size="21.5">16</text>
<text transform="translate(333.2,409.1) scale(1.03,1)" text-anchor="middle" font-size="21.5">24</text>
<text transform="translate(417.7,409.1) scale(1.03,1)" text-anchor="middle" font-size="21.5">32</text>
<text transform="translate(502.2,409.1) scale(1.03,1)" text-anchor="middle" font-size="21.5">40</text>
<text transform="translate(586.7,409.1) scale(1.03,1)" text-anchor="middle" font-size="21.5">48</text>
<text transform="translate(671.2,409.1) scale(1.03,1)" text-anchor="middle" font-size="21.5">56</text>
</g>
<text transform="translate(374.2,436.2) scale(1.03,1)" font-size="24" text-anchor="middle">Age (day)</text>
<text transform="translate(16.8,195.2) rotate(-90) scale(1.075,1)" font-size="23" text-anchor="middle">Drying shrinkage (%)</text>
</svg>
</body></html>
